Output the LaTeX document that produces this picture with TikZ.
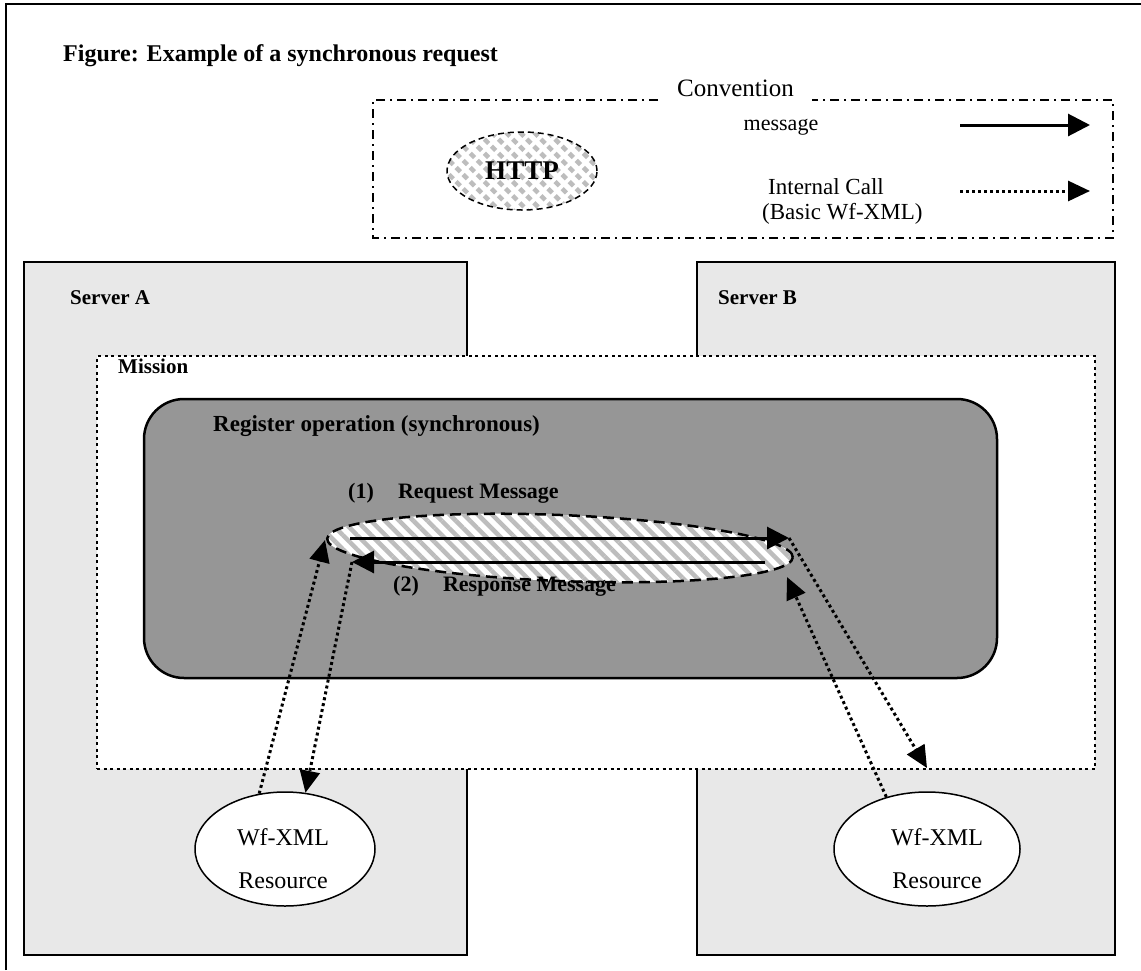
\documentclass[tikz,border=0pt]{standalone}
\usepackage{fontspec}
\setmainfont{Liberation Serif}
\usetikzlibrary{arrows.meta,positioning,shapes.geometric,patterns.meta,calc}
\definecolor{servergray}{HTML}{E8E8E8}
\definecolor{opgray}{HTML}{969696}
\definecolor{stripegray}{HTML}{BDBDBD}

\begin{document}
\begin{tikzpicture}[x=1pt,y=-1pt,
  frame/.style={line width=1.5pt},
  keyborder/.style={line width=1.5pt,dash pattern=on 9pt off 5pt on 2pt off 5pt},
  server/.style={draw,line width=1.2pt,fill=servergray,inner sep=0pt},
  mission/.style={draw,line width=2.8pt,dash pattern=on 3pt off 3.5pt,fill=white,inner sep=0pt},
  regop/.style={draw,line width=2.5pt,fill=opgray,rounded corners=40pt,inner sep=0pt},
  hatched/.style={preaction={fill=white},pattern={Lines[angle=-45,distance=10pt,line width=4.5pt]},pattern color=stripegray},
  protocol/.style={ellipse,draw,hatched,inner sep=0pt},
  resource/.style={ellipse,draw,line width=1.5pt,fill=white,inner sep=0pt},
  msg/.style={-{Triangle[length=22pt,width=22pt]},line width=3pt},
  call/.style={-{Triangle[length=22pt,width=20pt]},line width=3pt,dash pattern=on 3pt off 3pt},
  boldlbl/.style={font=\fontsize{#1}{#1}\selectfont\bfseries,inner sep=0pt},
  plainlbl/.style={font=\fontsize{#1}{#1}\selectfont,inner sep=0pt}
  ]
  \useasboundingbox (0,0) rectangle (1141,970);
  \draw[frame] (6,970) -- (6,4) -- (1141,4);
  \node[boldlbl=24,anchor=base west] (title) at (63,61) {Figure: Example of a synchronous request};

  % convention box
  \draw[keyborder] (658,100) -- (373,100) -- (373,238) -- (1113,238) -- (1113,100) -- (812,100);
  \node[plainlbl=25,anchor=base west] (convlbl) at (677,96) {Convention};
  \node[protocol,line width=1.5pt,dash pattern=on 6pt off 4pt,minimum width=150pt,minimum height=78pt,
    font=\fontsize{27}{27}\selectfont\bfseries] (httpkey) at (522,171) {HTTP};
  \node[plainlbl=22] (msglbl) at (781,127) {message};
  \node[plainlbl=23,align=left,anchor=west,font=\fontsize{23}{25}\selectfont] (calllbl) at (762,201) {\hspace{6pt}Internal Call\\(Basic Wf-XML)};
  \coordinate (msgkeyS) at (960,125);
  \coordinate (msgkeyE) at (1090,125);
  \coordinate (callkeyS) at (960,191);
  \coordinate (callkeyE) at (1090,191);
  \draw[msg] (msgkeyS) -- (msgkeyE);
  \draw[call] (callkeyS) -- (callkeyE);

  % servers
  \node[server,minimum width=443pt,minimum height=693pt] (srvA) at (245.5,608.5) {};
  \node[server,minimum width=418pt,minimum height=693pt] (srvB) at (906,608.5) {};
  \node[boldlbl=21,anchor=west] (srvAlbl) at (70,298) {Server A};
  \node[boldlbl=21,anchor=west] (srvBlbl) at (718,298) {Server B};

  % mission and operation
  \node[mission,minimum width=998pt,minimum height=413pt] (mission) at (596,562.5) {};
  \node[boldlbl=21,anchor=west] (missionlbl) at (118,366) {Mission};
  \node[regop,minimum width=853pt,minimum height=279pt] (regop) at (570.5,538.5) {};
  \node[boldlbl=23,anchor=west] (regoplbl) at (213,426) {Register operation (synchronous)};

  % http exchange
  \node[protocol,line width=2.5pt,dash pattern=on 11pt off 6pt,minimum width=466pt,minimum height=66pt,rotate=-2.3] (link) at (560,548) {};
  \node[boldlbl=22,anchor=west] (reqlbl) at (348,493) {(1)\hspace{1.1em}Request Message};
  \node[boldlbl=22,anchor=west] (rsplbl) at (393,586) {(2)\hspace{1.1em}Response Message};
  \coordinate (reqL) at (350,538);
  \coordinate (reqR) at (789,538);
  \coordinate (rspR) at (765,562);
  \coordinate (rspL) at (352,562);
  \draw[msg] (reqL) -- (reqR);
  \draw[msg] (rspR) -- (rspL);

  % resources
  \node[resource,minimum width=180pt,minimum height=114pt] (resA) at (285,849) {};
  \node[resource,minimum width=186pt,minimum height=114pt] (resB) at (927,849) {};
  \node[plainlbl=24,align=center,font=\fontsize{24}{43}\selectfont] (resAlbl) at ($(resA)+(-2,10)$) {Wf-XML\\Resource};
  \node[plainlbl=24,align=center,font=\fontsize{24}{43}\selectfont] (resBlbl) at ($(resB)+(10,10)$) {Wf-XML\\Resource};

  % internal calls
  \coordinate (linkL) at (325,540);
  \coordinate (rspB) at (787,577);
  \coordinate (missionB) at (927,768);
  \draw[call] (resA.115) -- (linkL);
  \draw[call] (rspL) -- (resA.70);
  \draw[call] (reqR) -- (missionB);
  \draw[call] (resB.128) -- (rspB);
\end{tikzpicture}
\end{document}
